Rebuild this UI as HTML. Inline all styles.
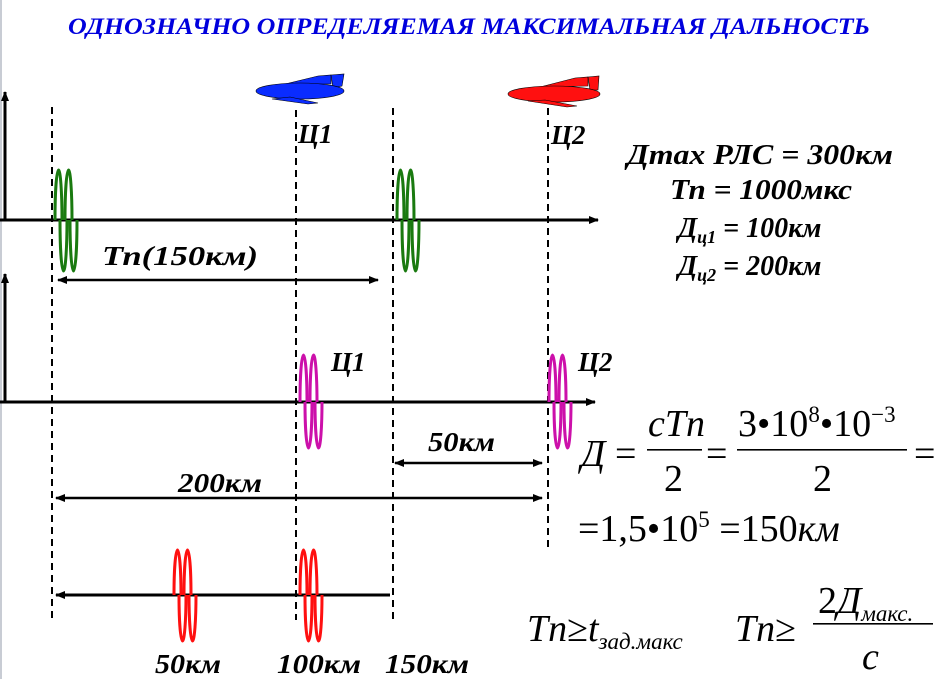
<!DOCTYPE html>
<html><head><meta charset="utf-8"><style>
body{margin:0;background:#fff}
svg{display:block}
svg text{font-family:"Liberation Serif","Times New Roman","DejaVu Serif",serif}
</style></head><body>
<svg width="938" height="679" viewBox="0 0 938 679" xmlns="http://www.w3.org/2000/svg">
<defs>
<marker id="a" markerWidth="10" markerHeight="8" refX="9" refY="4" orient="auto-start-reverse" markerUnits="userSpaceOnUse"><path d="M0,0 L10,4 L0,8 Z" fill="#000"/></marker>
</defs>
<rect x="0" y="0" width="2" height="679" fill="#c8ccd4"/>
<text x="68" y="34" textLength="802" lengthAdjust="spacingAndGlyphs" style="font-family:'Liberation Serif','DejaVu Serif',serif" font-style="italic" font-weight="bold" fill="#0000dd" font-size="23">ОДНОЗНАЧНО ОПРЕДЕЛЯЕМАЯ МАКСИМАЛЬНАЯ ДАЛЬНОСТЬ</text>

<g stroke="#000" stroke-width="2" stroke-dasharray="7,5">
<line x1="52" y1="107" x2="52" y2="620"/>
<line x1="296" y1="110" x2="296" y2="620"/>
<line x1="393" y1="108" x2="393" y2="620"/>
<line x1="548" y1="108" x2="548" y2="548"/>
</g>

<g stroke="#000" stroke-width="3" fill="none">
<line x1="5" y1="220" x2="5" y2="92" marker-end="url(#a)"/>
<line x1="0" y1="220" x2="598" y2="220" marker-end="url(#a)"/>
<line x1="5" y1="402" x2="5" y2="274" marker-end="url(#a)"/>
<line x1="0" y1="402" x2="595" y2="402" marker-end="url(#a)"/>
<line x1="390" y1="595" x2="56" y2="595" marker-end="url(#a)"/>
</g>
<g stroke="#000" stroke-width="2.5" fill="none">
<line x1="58" y1="280" x2="378" y2="280" marker-start="url(#a)" marker-end="url(#a)"/>
<line x1="395" y1="463" x2="542" y2="463" marker-start="url(#a)" marker-end="url(#a)"/>
<line x1="56" y1="498" x2="542" y2="498" marker-start="url(#a)" marker-end="url(#a)"/>
</g>

<g fill="none" stroke-width="3">
<path stroke="#1a7a10" d="M55,220 A3.5,50 0 0 1 62,220 M65,220 A3.5,50 0 0 1 72,220 M60,220 A3.5,51 0 0 0 67,220 M70,220 A3.5,51 0 0 0 77,220"/>
<path stroke="#1a7a10" d="M397,220 A3.5,50 0 0 1 404,220 M407,220 A3.5,50 0 0 1 414,220 M402,220 A3.5,51 0 0 0 409,220 M412,220 A3.5,51 0 0 0 419,220"/>
<path stroke="#cc10aa" d="M300,402 A3.5,47 0 0 1 307,402 M310,402 A3.5,47 0 0 1 317,402 M305,402 A3.5,46 0 0 0 312,402 M315,402 A3.5,46 0 0 0 322,402"/>
<path stroke="#cc10aa" d="M549,402 A3.5,47 0 0 1 556,402 M559,402 A3.5,47 0 0 1 566,402 M554,402 A3.5,46 0 0 0 561,402 M564,402 A3.5,46 0 0 0 571,402"/>
<path stroke="#ff1010" d="M174,595 A3.5,45 0 0 1 181,595 M184,595 A3.5,45 0 0 1 191,595 M179,595 A3.5,46 0 0 0 186,595 M189,595 A3.5,46 0 0 0 196,595"/>
<path stroke="#ff1010" d="M300,595 A3.5,45 0 0 1 307,595 M310,595 A3.5,45 0 0 1 317,595 M305,595 A3.5,46 0 0 0 312,595 M315,595 A3.5,46 0 0 0 322,595"/>
</g>

<g stroke="#000" stroke-width="0.6">
<g fill="#0a2cff">
<path d="M285,84 L318,76 L331,75 L331,84 Z"/>
<path d="M331,75 L344,74 L342,86 L333,88 Z"/>
<ellipse cx="300" cy="91" rx="44" ry="8"/>
<path d="M290,97 L318,103 L308,104 L272,99 Z"/>
</g>
<g fill="#ff1010">
<path d="M540,87 L575,78 L588,77 L588,86 Z"/>
<path d="M588,77 L599,76 L598,90 L590,90 Z"/>
<ellipse cx="554" cy="94" rx="46" ry="8"/>
<path d="M545,100 L577,106 L567,107 L528,101 Z"/>
</g>
</g>

<g font-style="italic" font-weight="bold" fill="#000" font-size="27">
<text x="298" y="143">Ц1</text>
<text x="551" y="144">Ц2</text>
<text x="331" y="371">Ц1</text>
<text x="578" y="371">Ц2</text>
<text x="102" y="265" textLength="156" lengthAdjust="spacingAndGlyphs">Тп(150км)</text>
<text x="428" y="451" textLength="67" lengthAdjust="spacingAndGlyphs">50км</text>
<text x="178" y="492" textLength="84" lengthAdjust="spacingAndGlyphs">200км</text>
<text x="155" y="673" textLength="66" lengthAdjust="spacingAndGlyphs">50км</text>
<text x="277" y="673" textLength="84" lengthAdjust="spacingAndGlyphs">100км</text>
<text x="385" y="673" textLength="84" lengthAdjust="spacingAndGlyphs">150км</text>
</g>
<g font-style="italic" font-weight="bold" fill="#000" font-size="28">
<text x="627" y="164" textLength="266" lengthAdjust="spacingAndGlyphs">Дmax РЛС = 300км</text>
<text x="670" y="199" textLength="182" lengthAdjust="spacingAndGlyphs">Тп = 1000мкс</text>
<text x="678" y="237">Д<tspan font-size="18" dy="6">ц1</tspan><tspan dy="-6"> = 100км</tspan></text>
<text x="678" y="275">Д<tspan font-size="18" dy="6">ц2</tspan><tspan dy="-6"> = 200км</tspan></text>
</g>

<g fill="#000" font-size="38">
<text x="581" y="466" font-style="italic">Д</text>
<text x="615" y="466">=</text>
<text x="648" y="436" font-style="italic">cTn</text>
<rect x="647" y="449" width="55" height="1.6" fill="#000"/>
<text x="664" y="491">2</text>
<text x="706" y="466">=</text>
<text x="738" y="436">3•10<tspan font-size="23" dy="-14">8</tspan><tspan dy="14">•10</tspan><tspan font-size="23" dy="-14">−3</tspan></text>
<rect x="737" y="449" width="170" height="1.6" fill="#000"/>
<text x="813" y="491">2</text>
<text x="914" y="466">=</text>
<text x="578" y="541">=1,5•10<tspan font-size="23" dy="-14">5</tspan><tspan dy="14"> =150</tspan><tspan font-style="italic">км</tspan></text>
<text x="527" y="641" font-style="italic">Tn<tspan font-style="normal">≥</tspan>t<tspan font-size="23" dy="8">зад.макс</tspan></text>
<text x="735" y="641" font-style="italic">Tn<tspan font-style="normal">≥</tspan></text>
<text x="818" y="613">2<tspan font-style="italic">Д</tspan><tspan font-style="italic" font-size="23" dy="8">макс.</tspan></text>
<rect x="813" y="623" width="120" height="1.6" fill="#000"/>
<text x="862" y="669" font-style="italic">c</text>
</g>
</svg>
</body></html>
